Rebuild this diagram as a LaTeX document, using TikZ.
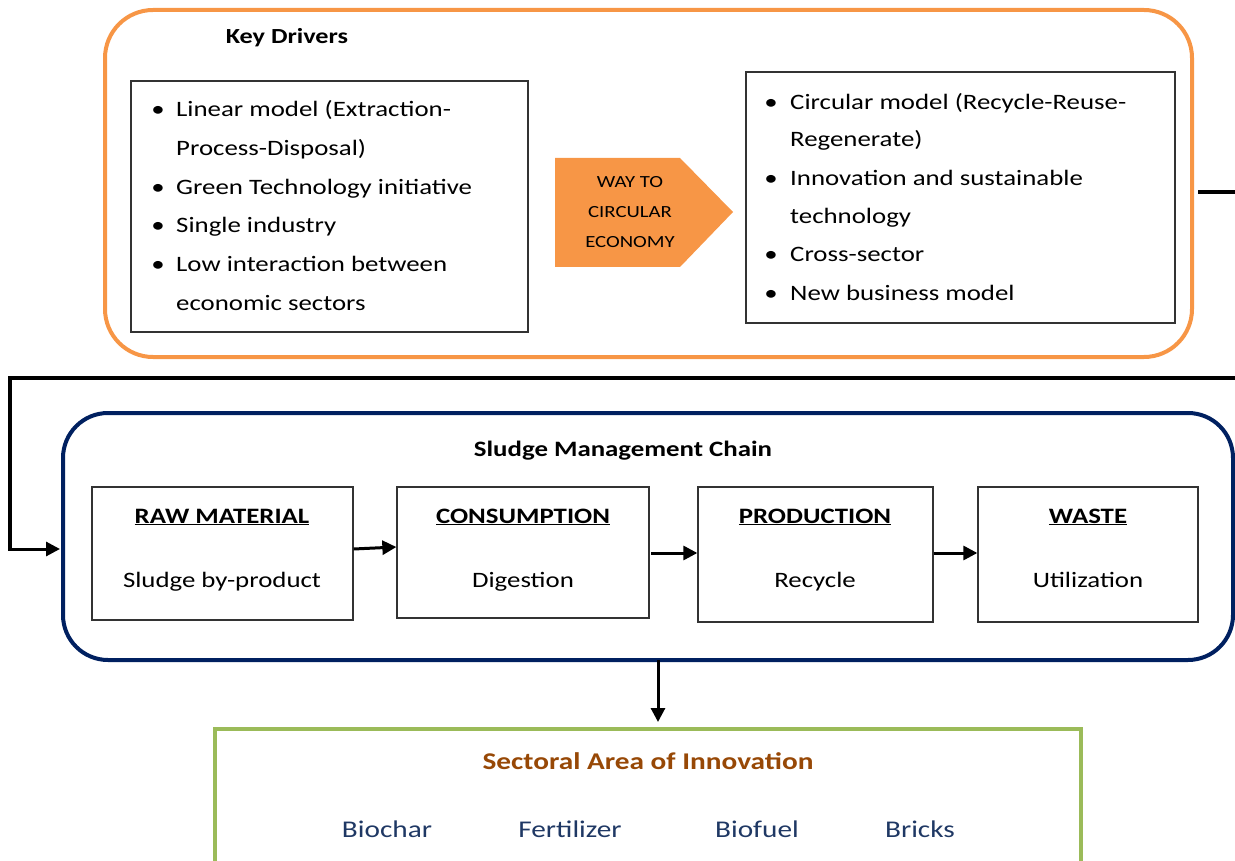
\documentclass[tikz,border=0pt]{standalone}
\usepackage{fontspec}
\setmainfont{Carlito}[FakeStretch=1.22]
\usetikzlibrary{arrows.meta}
\definecolor{orng}{HTML}{F79646}
\definecolor{navy}{HTML}{002060}
\definecolor{grn}{HTML}{9BBB59}
\definecolor{brn}{HTML}{974806}
\definecolor{itemblue}{HTML}{1F3864}
\begin{document}
\begin{tikzpicture}[x=1pt,y=-1pt,
  body/.style={font=\fontsize{22}{26}\selectfont, inner sep=0pt, anchor=base west},
  bul/.style={font=\fontsize{22}{26}\selectfont, inner sep=0pt, anchor=base},
  ctext/.style={font=\fontsize{22}{26}\selectfont, inner sep=0pt, anchor=base},
  btitle/.style={font=\fontsize{22}{26}\selectfont\bfseries, inner sep=0pt, anchor=base},
  thinbox/.style={draw=black!80, line width=1.3pt},
  bigbox/.style={line width=4pt, rounded corners=48pt},
  conn/.style={line width=3.5pt, black},
  arr/.style={line width=3pt, black, -{Triangle[length=14pt,width=14pt]}},
  item/.style={font=\fontsize{24}{28}\selectfont, text=itemblue, inner sep=0pt, anchor=base}
]
\useasboundingbox (0,0) rectangle (1235,861);
\clip (0,0) rectangle (1235,861);

% Key drivers frame
\draw[bigbox, draw=orng] (105,10) rectangle (1192,357);
\node[font=\fontsize{21.5}{24}\selectfont\bfseries, inner sep=0pt, anchor=base] (kd) at (287,44) {Key Drivers};

% left box
\draw[thinbox] (131,81) rectangle (528,332);
\node[bul] (lb1) at (158,117) {•};
\node[body] (l1) at (176,117) {Linear model (Extraction-};
\node[body] (l2) at (176,156) {Process-Disposal)};
\node[bul] (lb3) at (158,195) {•};
\node[body] (l3) at (176,195) {Green Technology initiative};
\node[bul] (lb4) at (158,233) {•};
\node[body] (l4) at (176,233) {Single industry};
\node[bul] (lb5) at (158,272) {•};
\node[body] (l5) at (176,272) {Low interaction between};
\node[body] (l6) at (176,310) {economic sectors};

% arrow shape
\fill[orng] (555,158) -- (680,158) -- (733,212) -- (680,267) -- (555,267) -- cycle;
\node[font=\fontsize{17}{30}\selectfont, align=center, inner sep=0pt] (way) at (630,212) {WAY TO\\CIRCULAR\\ECONOMY};

% right box
\draw[thinbox] (746,72) rectangle (1175,323);
\node[bul] (rb1) at (771,110) {•};
\node[body] (r1) at (790,110) {Circular model (Recycle-Reuse-};
\node[body] (r2) at (790,147) {Regenerate)};
\node[bul] (rb3) at (771,186) {•};
\node[body] (r3) at (790,186) {Innovation and sustainable};
\node[body] (r4) at (790,224) {technology};
\node[bul] (rb5) at (771,262) {•};
\node[body] (r5) at (790,262) {Cross-sector};
\node[bul] (rb6) at (771,301) {•};
\node[body] (r6) at (790,301) {New business model};

% connector round
\coordinate (c0) at (1198,192);
\coordinate (c1) at (1240,192);
\coordinate (c2) at (1240,378);
\coordinate (c3) at (10,378);
\coordinate (c4) at (10,549);
\coordinate (c5) at (60,549);
\draw[conn] (c0) -- (c1);
\draw[conn] (c2) -- (c3) -- (c4);
\draw[arr] ([xshift=-1.75pt]c4) -- (c5);

% sludge management chain
\draw[bigbox, draw=navy, rounded corners=45pt] (63,413) rectangle (1233,660);
\node[font=\fontsize{22}{24}\selectfont\bfseries, inner sep=0pt, anchor=base] (smc) at (623,456) {Sludge Management Chain};

\node[thinbox, minimum width=261pt, minimum height=133pt, inner sep=0pt] (b1) at (222.5,553.5) {};
\node[thinbox, minimum width=252pt, minimum height=131pt, inner sep=0pt] (b2) at (523,552.5) {};
\node[thinbox, minimum width=235pt, minimum height=135pt, inner sep=0pt] (b3) at (815.5,554.5) {};
\node[thinbox, minimum width=220pt, minimum height=135pt, inner sep=0pt] (b4) at (1088,554.5) {};

\node[btitle] (t1) at (222,523) {\underline{RAW MATERIAL}};
\node[ctext] (s1) at (222,587) {Sludge by-product};
\node[btitle] (t2) at (523,523) {\underline{CONSUMPTION}};
\node[ctext] (s2) at (523,587) {Digestion};
\node[btitle] (t3) at (815,523) {\underline{PRODUCTION}};
\node[ctext] (s3) at (815,587) {Recycle};
\node[btitle] (t4) at (1088,523) {\underline{WASTE}};
\node[ctext] (s4) at (1088,587) {Utilization};

\draw[arr] (b1.east |- 0,549) -- (b2.west |- 0,547);
\draw[arr] (651,553) -- (b3.west |- 0,553);
\draw[arr] (b3.east |- 0,553) -- (b4.west |- 0,553);

% down arrow
\coordinate (d0) at (658,660);
\draw[arr] (d0) -- (658,722);

% sectoral
\draw[draw=grn, line width=4pt] (215,729) rectangle (1081,900);
\node[font=\fontsize{24}{28}\selectfont\bfseries, text=brn, inner sep=0pt, anchor=base] (sec) at (648,769) {Sectoral Area of Innovation};
\node[item] (i1) at (387,837) {Biochar};
\node[item] (i2) at (570,837) {Fertilizer};
\node[item] (i3) at (757,837) {Biofuel};
\node[item] (i4) at (920,837) {Bricks};
\end{tikzpicture}
\end{document}
